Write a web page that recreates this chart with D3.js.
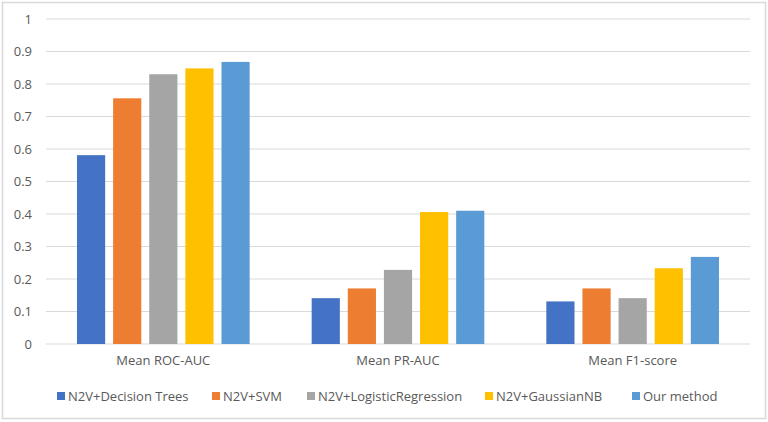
<!DOCTYPE html>
<html>
<head>
<meta charset="utf-8">
<script src="https://cdn.jsdelivr.net/npm/d3@7"></script>
<style>
  body { margin: 0; background: #fff; }
  text { font-family: "Open Sans", "Noto Sans", sans-serif; fill: #595959; }
</style>
</head>
<body>
<div id="chart"></div>
<script>
const categories = ["Mean ROC-AUC", "Mean PR-AUC", "Mean F1-score"];
const methods = ["N2V+Decision Trees", "N2V+SVM", "N2V+LogisticRegression", "N2V+GaussianNB", "Our method"];
const colors = ["#4472C4", "#ED7D31", "#A5A5A5", "#FFC000", "#5B9BD5"];
// one array per method, values in category order
const decisionTrees = [0.581, 0.141, 0.131];
const svm = [0.756, 0.171, 0.171];
const logisticRegression = [0.830, 0.228, 0.141];
const gaussianNB = [0.848, 0.406, 0.233];
const ourMethod = [0.868, 0.410, 0.268];
const yTicks = [0, 0.1, 0.2, 0.3, 0.4, 0.5, 0.6, 0.7, 0.8, 0.9, 1];

const series = [decisionTrees, svm, logisticRegression, gaussianNB, ourMethod];

const width = 768;
const height = 422;
const margin = { top: 19, right: 18, bottom: 78, left: 46 };

const svg = d3.select("#chart")
  .append("svg")
  .attr("width", width)
  .attr("height", height);

// outer chart border
svg.append("rect")
  .attr("x", 2.5).attr("y", 2.5)
  .attr("width", width - 5).attr("height", height - 6)
  .attr("fill", "none")
  .attr("stroke", "#d9d9d9")
  .attr("stroke-width", 1.5);

const x0 = d3.scaleBand()
  .domain(categories)
  .range([margin.left, width - margin.right]);

const x1 = d3.scaleBand()
  .domain(methods)
  .range([0, x0.bandwidth()])
  .paddingInner(0.22)
  .paddingOuter(0.0);

// shrink the inner band so bars sit in the middle of each group
const groupInset = 31;
x1.range([groupInset, x0.bandwidth() - groupInset]);

const y = d3.scaleLinear()
  .domain([0, 1])
  .range([height - margin.bottom, margin.top]);

// gridlines
svg.append("g")
  .selectAll("line")
  .data(yTicks)
  .enter()
  .append("line")
  .attr("x1", margin.left)
  .attr("x2", width - margin.right)
  .attr("y1", d => y(d))
  .attr("y2", d => y(d))
  .attr("stroke", "#d9d9d9")
  .attr("stroke-width", 1);

// y axis labels
const yAxis = d3.axisLeft(y)
  .tickValues(yTicks)
  .tickSize(0)
  .tickPadding(14)
  .tickFormat(d => d3.format("")(+d.toFixed(1)));

svg.append("g")
  .attr("transform", `translate(${margin.left},0)`)
  .call(yAxis)
  .call(g => g.select(".domain").remove())
  .selectAll("text")
  .style("font-size", "13px")
  .attr("fill", "#595959");

// bars
const groups = svg.append("g")
  .selectAll("g")
  .data(categories)
  .enter()
  .append("g")
  .attr("transform", d => `translate(${x0(d)},0)`);

groups.selectAll("rect")
  .data((d, ci) => methods.map((m, mi) => ({ method: m, value: series[mi][ci], color: colors[mi] })))
  .enter()
  .append("rect")
  .attr("x", d => x1(d.method))
  .attr("width", x1.bandwidth())
  .attr("y", d => y(d.value))
  .attr("height", d => y(0) - y(d.value))
  .attr("fill", d => d.color);

// category labels
const xAxis = d3.axisBottom(x0).tickSize(0).tickPadding(12);
svg.append("g")
  .attr("transform", `translate(0,${y(0)})`)
  .call(xAxis)
  .call(g => g.select(".domain").remove())
  .selectAll("text")
  .style("font-size", "13px")
  .attr("fill", "#595959");

// legend
const legendX = [57, 212, 307, 485, 632];
const legend = svg.append("g")
  .selectAll("g")
  .data(methods)
  .enter()
  .append("g")
  .attr("transform", (d, i) => `translate(${legendX[i]},396)`);

legend.append("rect")
  .attr("x", 0).attr("y", -4)
  .attr("width", 8).attr("height", 8)
  .attr("fill", (d, i) => colors[i]);

legend.append("text")
  .attr("x", 11)
  .attr("dy", "0.35em")
  .style("font-size", "13px")
  .text(d => d);
</script>
</body>
</html>
